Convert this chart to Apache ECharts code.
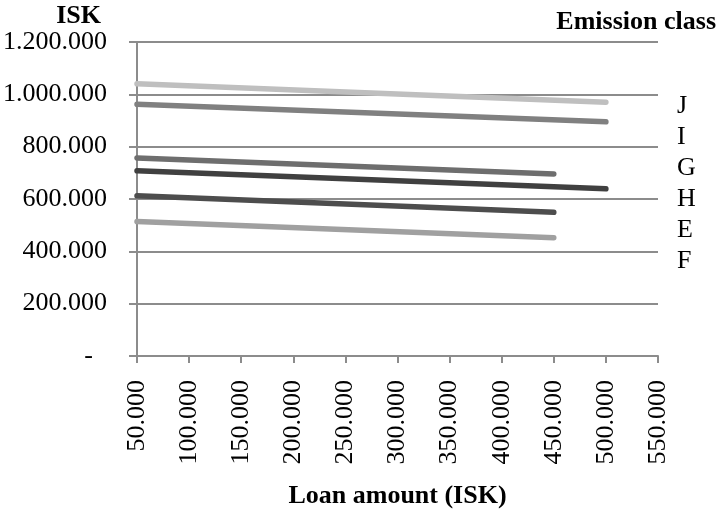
<!DOCTYPE html>
<html>
<head>
<meta charset="utf-8">
<script src="https://cdn.jsdelivr.net/npm/echarts@6/dist/echarts.min.js"></script>
<style>
  html, body { margin: 0; padding: 0; background: #fff; }
  #chart { width: 720px; height: 510px; }
</style>
</head>
<body>
<div id="chart"></div>
<script>
// Monthly cost (ISK) against loan amount, one line per emission class
const classNames = ['J', 'I', 'G', 'H', 'E', 'F'];
const loanStart = [50000, 50000, 50000, 50000, 50000, 50000];
const loanEnd = [500000, 500000, 450000, 500000, 450000, 450000];
const costAtStart = [1040000, 962000, 757000, 708000, 612000, 514000];
const costAtEnd = [970000, 895000, 696000, 639000, 549000, 452000];
const lineColors = ['#bfbfbf', '#808080', '#6e6e6e', '#404040', '#4d4d4d', '#a0a0a0'];

const yTicks = { min: 0, max: 1200000, step: 200000 };
const xTicks = { min: 50000, max: 550000, step: 50000 };

const FONT = "'Liberation Serif', 'Times New Roman', serif";
const GRID_COLOR = '#8c8c8c';

function dotted(v) {
  return String(Math.round(v)).replace(/\B(?=(\d{3})+(?!\d))/g, '.');
}

const series = classNames.map((name, i) => ({
  name: name,
  type: 'line',
  data: [[loanStart[i], costAtStart[i]], [loanEnd[i], costAtEnd[i]]],
  showSymbol: false,
  symbol: 'none',
  silent: true,
  color: lineColors[i],
  lineStyle: { width: 5.5, color: lineColors[i], cap: 'round' },
  z: 2
}));

const chart = echarts.init(document.getElementById('chart'), null, { renderer: 'canvas' });
chart.setOption({
  animation: false,
  backgroundColor: '#ffffff',
  grid: { left: 137, right: 62, top: 42, bottom: 154, containLabel: false, outerBoundsMode: 'none' },
  xAxis: {
    type: 'value',
    min: xTicks.min,
    max: xTicks.max,
    interval: xTicks.step,
    name: 'Loan amount (ISK)',
    nameLocation: 'middle',
    nameGap: 127,
    nameTextStyle: { fontFamily: FONT, fontSize: 26, fontWeight: 'bold', color: '#000' },
    axisLine: { show: true, lineStyle: { color: GRID_COLOR, width: 2 } },
    axisTick: { show: true, length: 7, lineStyle: { color: GRID_COLOR, width: 2 } },
    splitLine: { show: false },
    axisLabel: {
      rotate: 90,
      margin: 24,
      fontFamily: FONT,
      fontSize: 26,
      color: '#000',
      formatter: v => dotted(v)
    }
  },
  yAxis: {
    type: 'value',
    min: yTicks.min,
    max: yTicks.max,
    interval: yTicks.step,
    axisLine: { show: true, lineStyle: { color: GRID_COLOR, width: 2 } },
    axisTick: { show: true, length: 8, lineStyle: { color: GRID_COLOR, width: 2 } },
    splitLine: { show: true, lineStyle: { color: GRID_COLOR, width: 2 } },
    axisLabel: {
      margin: 30,
      fontFamily: FONT,
      fontSize: 26,
      color: '#000',
      formatter: v => (v === 0 ? '{z|-}' : dotted(v)),
      rich: { z: { fontFamily: FONT, fontSize: 26, color: '#000', padding: [0, 14, 0, 0] } }
    }
  },
  legend: {
    data: classNames,
    orient: 'vertical',
    left: 672,
    top: 91,
    itemWidth: 0,
    itemHeight: 0,
    itemGap: 0,
    padding: 0,
    icon: 'rect',
    selectedMode: false,
    textStyle: { fontFamily: FONT, fontSize: 26, color: '#000', lineHeight: 31 }
  },
  graphic: [
    {
      type: 'text',
      style: { text: 'ISK', x: 101, y: 16, align: 'right', verticalAlign: 'middle',
               font: "bold 26px 'Liberation Serif', serif", fill: '#000' }
    },
    {
      type: 'text',
      style: { text: 'Emission class', x: 716, y: 22, align: 'right', verticalAlign: 'middle',
               font: "bold 26px 'Liberation Serif', serif", fill: '#000' }
    }
  ],
  series: series
});
</script>
</body>
</html>
